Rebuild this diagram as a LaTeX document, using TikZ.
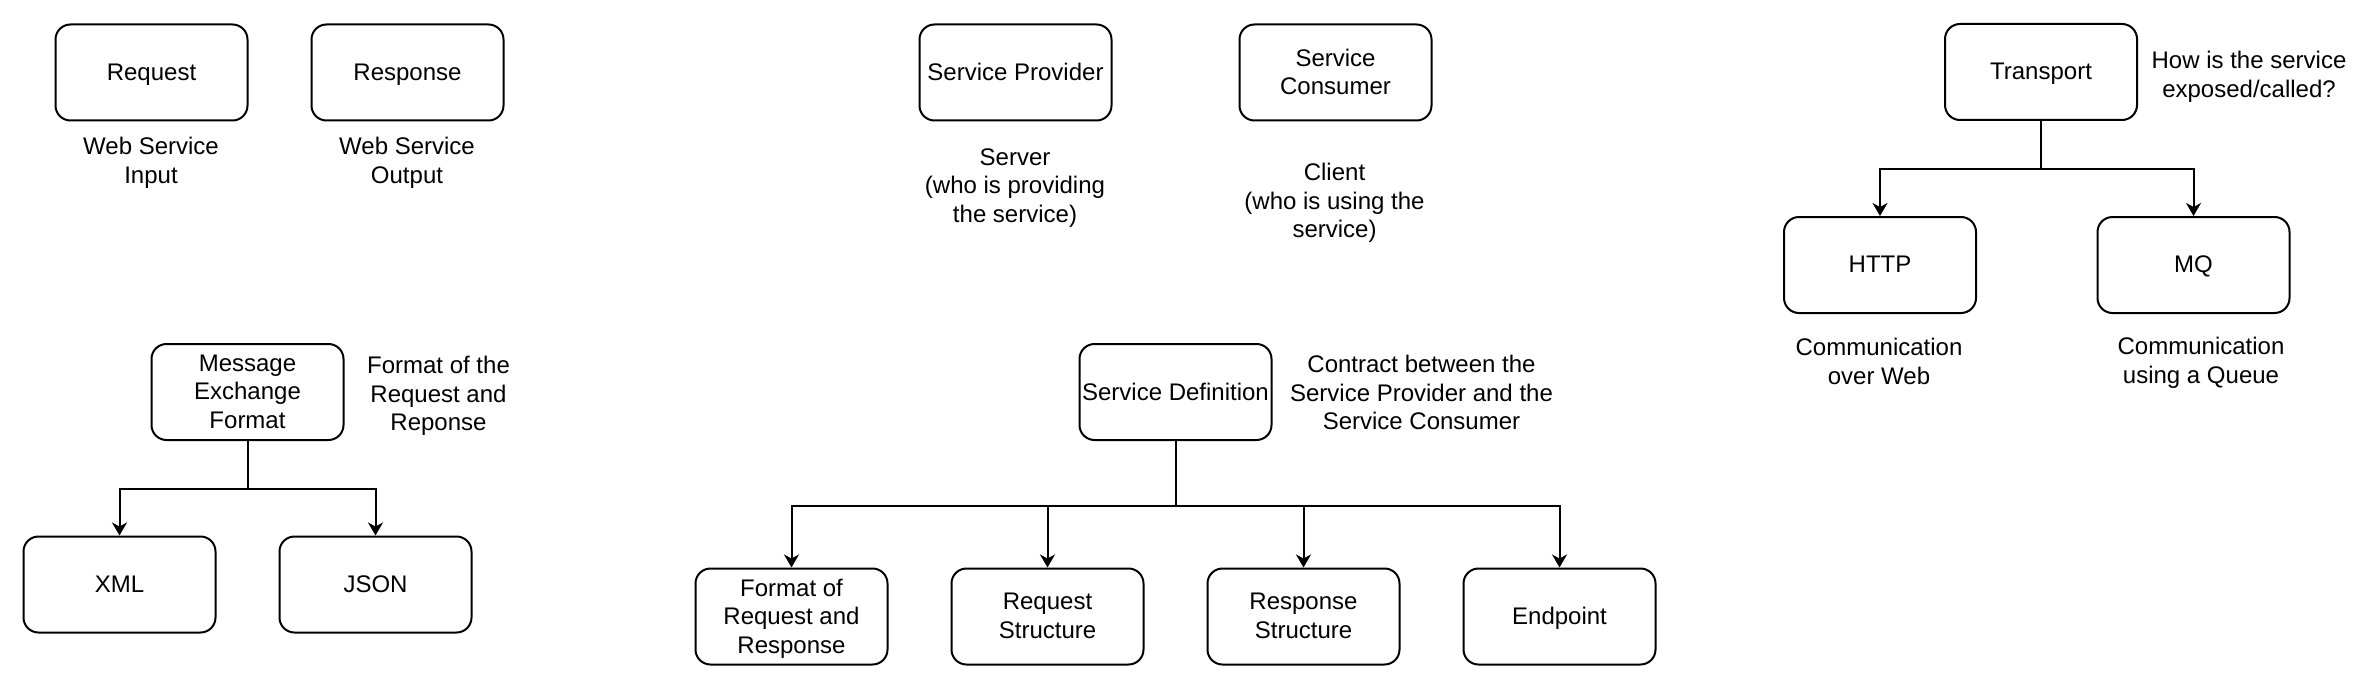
\documentclass[tikz,border=0pt]{standalone}
\usepackage{fontspec}
\setmainfont{Liberation Sans}
\usepackage{xcolor}
\usetikzlibrary{arrows.meta}

\begin{document}
\begin{tikzpicture}[x=0.5pt, y=-0.5pt, line width=1pt,
    every node/.style = {font=\fontsize{12pt}{14.3pt}\selectfont, align=center, text depth=0.5pt},
    box/.style = {draw, rounded corners=7.5pt, minimum width=96pt, minimum height=48pt, inner sep=1pt},
    note/.style = {inner sep=0pt},
    arrow/.style = {-{Stealth[length=6.5pt, width=7.5pt, inset=2pt]}}]
        \useasboundingbox (0,0) rectangle (2360,690);
        % request / response
        \node[box] (req) at (151.5,72.5) {Request};
        \node[box] (resp) at (407.5,72.5) {Response};
        \node[note] (reqtxt) at (151,161) {Web Service\\Input};
        \node[note] (resptxt) at (407,161) {Web Service\\Output};
        % message exchange format
        \node[box] (mef) at (247.5,392) {Message\\Exchange\\Format};
        \node[note] (meftxt) at (438.5,394) {Format of the\\Request and\\Reponse};
        \node[box] (xml) at (119.5,584.5) {XML};
        \node[box] (json) at (375.5,584.5) {JSON};
        \draw[arrow] (mef.south) -- ++(0,48) -| (xml.north);
        \draw[arrow] (mef.south) -- ++(0,48) -| (json.north);
        % provider / consumer
        \node[box] (prov) at (1015.5,72.5) {Service Provider};
        \node[box] (cons) at (1335.5,72.5) {Service\\Consumer};
        \node[note] (provtxt) at (1015,186) {Server\\(who is providing\\the service)};
        \node[note] (constxt) at (1334.5,201) {Client\\(who is using the\\service)};
        % service definition
        \node[box] (def) at (1175.5,392) {Service Definition};
        \node[note] (deftxt) at (1421.5,393) {Contract between the\\Service Provider and the\\Service Consumer};
        \node[box] (fmt) at (791.5,616.5) {Format of\\Request and\\Response};
        \node[box] (rqs) at (1047.5,616.5) {Request\\Structure};
        \node[box] (rss) at (1303.5,616.5) {Response\\Structure};
        \node[box] (endp) at (1559.5,616.5) {Endpoint};
        \foreach \n in {fmt, rqs, rss, endp}
            \draw[arrow] (def.south) -- ++(0,65) -| (\n.north);
        % transport
        \node[box] (trans) at (2041,72) {Transport};
        \node[note] (transtxt) at (2249,75) {How is the service\\exposed/called?};
        \node[box] (http) at (1880,265) {HTTP};
        \node[box] (mq) at (2193.5,265) {MQ};
        \node[note] (httptxt) at (1879,362) {Communication\\over Web};
        \node[note] (mqtxt) at (2201,361) {Communication\\using a Queue};
        \draw[arrow] (trans.south) -- ++(0,48) -| (http.north);
        \draw[arrow] (trans.south) -- ++(0,48) -| (mq.north);
    \end{tikzpicture}
\end{document}
